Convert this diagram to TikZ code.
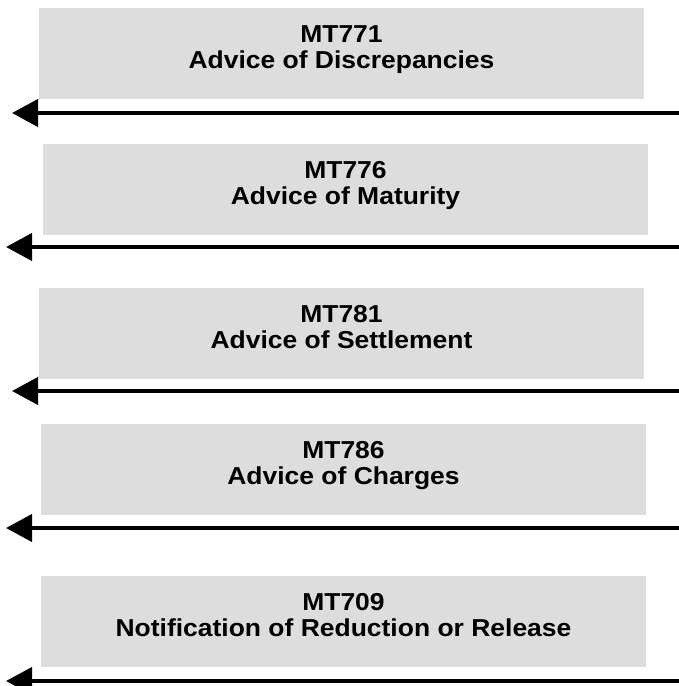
\documentclass[tikz,border=0pt]{standalone}
\usepackage{fontspec}
\setmainfont{Liberation Sans}[FakeStretch=1.08]
\usetikzlibrary{arrows.meta}
\definecolor{msggray}{RGB}{221,221,221}

\begin{document}
\begin{tikzpicture}[
            x=1pt, y=-1pt,
            msgbox/.style={fill=msggray, minimum width=605pt, minimum height=91pt, inner sep=0pt,
                align=center, font=\fontsize{24.5}{26}\selectfont\bfseries,
                text height=43.5pt, text depth=13.5pt},
            msgarrow/.style={line width=4pt, -{Triangle[length=26pt, width=27pt]}}
        ]
            \useasboundingbox (0,0) rectangle (679,686);
            \clip (0,0) rectangle (679,686);
            % Message boxes
            \node[msgbox] (m771) at (341.5, 53.5) {MT771\\Advice of Discrepancies};
            \node[msgbox] (m776) at (345.5, 189.5) {MT776\\Advice of Maturity};
            \node[msgbox] (m781) at (341.5, 333.5) {MT781\\Advice of Settlement};
            \node[msgbox] (m786) at (343.5, 469.5) {MT786\\Advice of Charges};
            \node[msgbox] (m709) at (343.5, 621.5) {MT709\\Notification of Reduction or Release};
            % Arrow ends
            \foreach \i/\xl/\y in {1/12/113, 2/6/247, 3/12/391, 4/6/528, 5/6/681} {
                \coordinate (r\i) at (679, \y);
                \coordinate (l\i) at (\xl, \y);
            }
            \draw[msgarrow] (r1) -- (l1);
            \draw[msgarrow] (r2) -- (l2);
            \draw[msgarrow] (r3) -- (l3);
            \draw[msgarrow] (r4) -- (l4);
            \draw[msgarrow] (r5) -- (l5);
        \end{tikzpicture}
\end{document}
